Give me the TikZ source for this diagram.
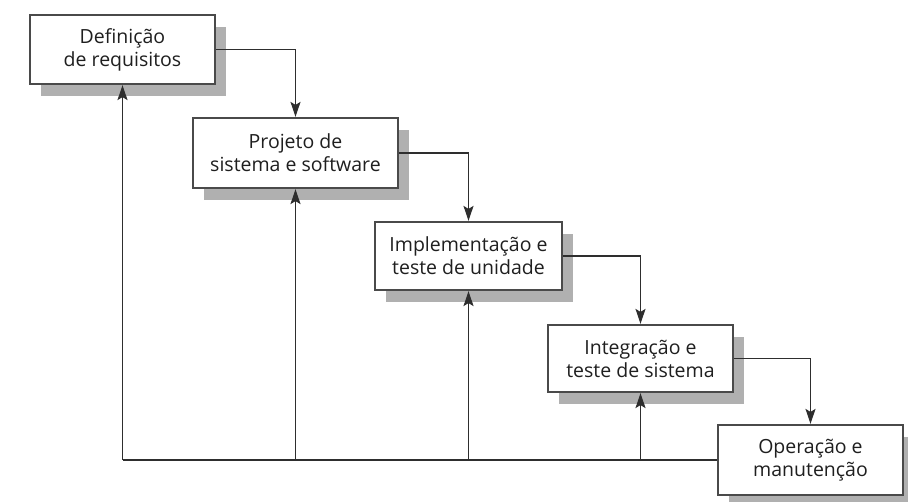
\documentclass[tikz,border=0pt]{standalone}
\usepackage{fontspec}
\setmainfont{Open Sans}
\usetikzlibrary{arrows.meta,shadows}
\definecolor{boxline}{HTML}{4A4A4A}
\definecolor{conn}{HTML}{2E2E2E}
\definecolor{shade}{HTML}{B0B0B0}
\begin{document}
\begin{tikzpicture}[x=1pt,y=-1pt,
  phase/.style={draw=boxline, line width=2.2pt, fill=white, align=center,
    inner sep=0pt, font=\fontsize{19.5}{23}\selectfont, text=black!88,
    drop shadow={shadow xshift=11pt, shadow yshift=-12pt, fill=shade, opacity=1}},
  flow/.style={draw=conn, line width=1.3pt, -{Stealth[length=15pt,width=10pt,inset=3pt]}},
  plain/.style={draw=conn, line width=1.3pt}]
\useasboundingbox (0,0) rectangle (908,502);
\fill[white] (0,0) rectangle (908,502);
\node[phase, minimum width=185pt, minimum height=69pt] (b1) at (122.5,49.5) {Definição\\de requisitos};
\node[phase, minimum width=205pt, minimum height=70pt] (b2) at (295.5,153) {Projeto de\\sistema e software};
\node[phase, minimum width=187pt, minimum height=68pt] (b3) at (468.5,256) {Implementação e\\teste de unidade};
\node[phase, minimum width=185pt, minimum height=67pt] (b4) at (640.5,358.5) {Integração e\\teste de sistema};
\node[phase, minimum width=185pt, minimum height=70pt] (b5) at (810.5,460) {Operação e\\manutenção};
% forward flow
\draw[flow] (b1.east) -| (b2.north);
\draw[flow] (b2.east) -| (b3.north);
\draw[flow] (b3.east) -| (b4.north);
\draw[flow] (b4.east) -| (b5.north);
% feedback
\coordinate (f1) at (b1.south |- b5.west);
\coordinate (f2) at (b2.south |- b5.west);
\coordinate (f3) at (b3.south |- b5.west);
\coordinate (f4) at (b4.south |- b5.west);
\draw[plain] (b5.west) -- (f1);
\draw[flow] (f1) -- (b1.south);
\draw[flow] (f2) -- (b2.south);
\draw[flow] (f3) -- (b3.south);
\draw[flow] (f4) -- (b4.south);
\end{tikzpicture}
\end{document}
